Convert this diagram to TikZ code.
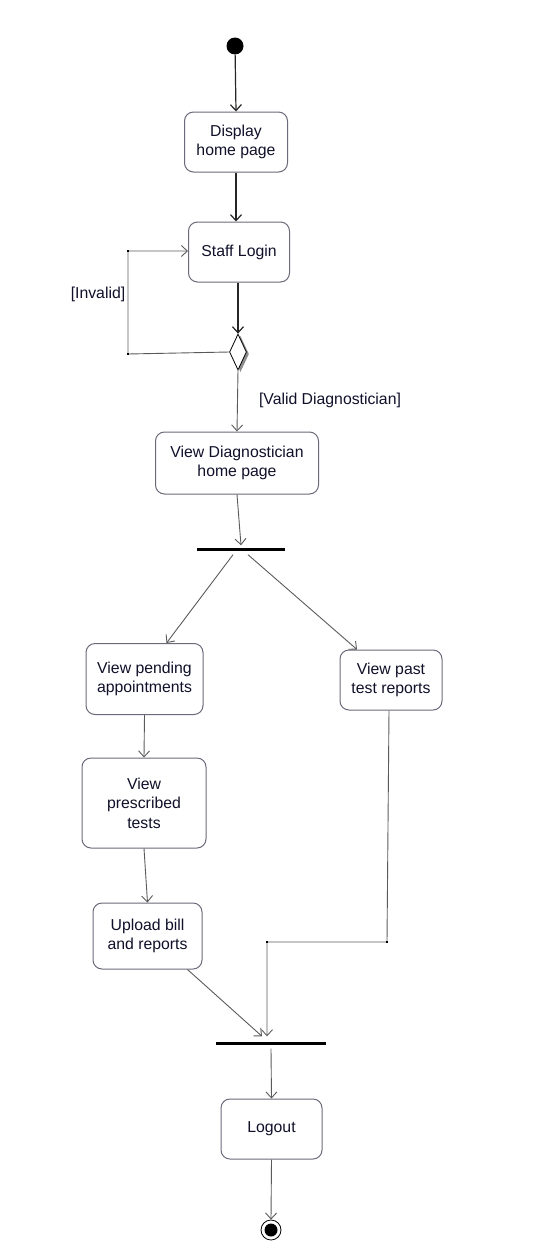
\documentclass[tikz,border=0pt]{standalone}
\usepackage{fontspec}
\setmainfont{Liberation Sans}
\usetikzlibrary{arrows.meta,positioning,shapes.geometric,shadows,calc}
\definecolor{actEdge}{HTML}{6A6A7A}
\definecolor{actText}{HTML}{10102A}
\definecolor{flowGrey}{HTML}{5A5A5A}

\begin{document}
\begin{tikzpicture}[x=1pt, y=-1pt,
  act/.style={draw=actEdge, fill=white, line width=1pt, rounded corners=9pt,
              align=center, inner sep=0pt, text=actText,
              font=\fontsize{15.8}{19.5}\selectfont},
  bar/.style={fill=black, inner sep=0pt, minimum height=3pt},
  decide/.style={draw=black, fill=white, line width=0.8pt, diamond, aspect=0.5,
              inner sep=0pt, minimum width=17pt, minimum height=36pt,
              drop shadow={shadow xshift=2.5pt, shadow yshift=-2pt, fill=gray!90, opacity=1}},
  arr/.style={-{Straight Barb[length=6pt, width=11pt]}, line width=0.9pt, draw=flowGrey},
  darr/.style={arr, draw=black!85, line width=1.2pt},
  lbl/.style={font=\fontsize{15.8}{19}\selectfont, text=actText, inner sep=1pt},
  bendpt/.style={fill=black, inner sep=0pt, minimum size=2.5pt}
]
\useasboundingbox (0,0) rectangle (540,1255);

% start and login
\node[circle, fill=black, inner sep=0pt, minimum size=17pt] (start) at (235,46) {};
\node[act, minimum width=103pt, minimum height=60pt] (home)  at (236,142) {Display\\home page};
\node[act, minimum width=101pt, minimum height=60pt] (login) at (239,252) {Staff Login};
\node[decide] (check) at (238,352) {};
\node[lbl] (invalidlbl) at (98,294) {[Invalid]};
\node[lbl] (validlbl) at (330,400) {[Valid Diagnostician]};
\coordinate (lpA) at (128,354);
\coordinate (lpB) at (128,251);

% diagnostician part
\node[act, minimum width=163pt, minimum height=62pt] (diaghome) at (237,463) {View Diagnostician\\home page};
\node[bar, minimum width=88pt] (fork) at (241,549) {};
\node[act, minimum width=117pt, minimum height=71pt] (pending) at (144.5,679) {View pending\\appointments};
\node[act, minimum width=102pt, minimum height=60pt] (past) at (391,680) {View past\\test reports};
\node[act, minimum width=124pt, minimum height=90pt] (prescribed) at (144,803) {View\\prescribed\\tests};
\node[act, minimum width=109pt, minimum height=66pt] (upload) at (147.5,936) {Upload bill\\and reports};
\coordinate (pbA) at (387,942);
\coordinate (pbB) at (267,942);

% end
\node[bar, minimum width=110pt] (join) at (271,1043) {};
\node[act, minimum width=101pt, minimum height=60pt] (logout) at (271.5,1129) {Logout};
\node[circle, draw=black, line width=0.8pt, fill=white, inner sep=0pt, minimum size=20pt,
      path picture={\fill[black] (path picture bounding box.center) circle (6.5pt);}] (stop) at (271,1230) {};

% arrows
\draw[darr] (start) -- (home.north);
\draw[darr] (home.south) -- (home.south |- login.north);
\draw[darr] (login.south -| check.north) -- (check.north);
\draw[arr] (check.west) -- (lpA) -- (lpB) -- (login.west |- lpB);
\node[bendpt] at (lpA) {};
\node[bendpt] at (lpB) {};
\draw[arr] (check.south) -- (diaghome.north);
\draw[arr] (diaghome.south) -- ([yshift=2pt]fork.north);
\draw[arr] ([xshift=-8pt, yshift=-4pt]fork.south) -- ([xshift=22pt]pending.north);
\draw[arr] ([xshift=7pt, yshift=-4pt]fork.south) -- ([xshift=-34pt]past.north);
\draw[arr] (pending.south) -- (prescribed.north);
\draw[arr] (prescribed.south) -- (upload.north);
\draw[arr] ([xshift=40pt]upload.south) -- ([xshift=-9pt, yshift=5pt]join.north);
\draw[arr] ([xshift=-2pt]past.south) -- (pbA) -- (pbB) -- ([xshift=-4pt, yshift=5pt]join.north);
\node[bendpt] at (pbA) {};
\node[bendpt] at (pbB) {};
\draw[arr] ([yshift=-4pt]join.south) -- (logout.north);
\draw[arr] (logout.south) -- (stop.north);
\end{tikzpicture}
\end{document}
